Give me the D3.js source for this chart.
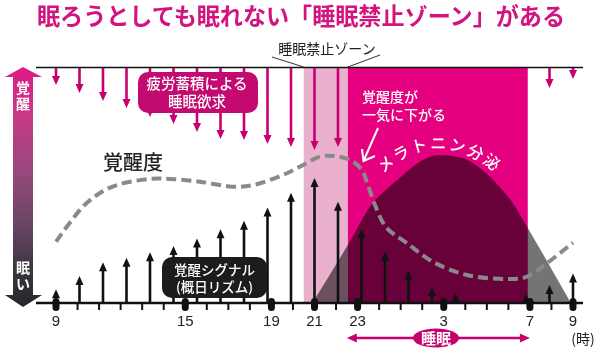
<!DOCTYPE html>
<html>
<head>
<meta charset="utf-8">
<script src="https://cdn.jsdelivr.net/npm/d3@7"></script>
<style>
  body { margin: 0; background: #fff; }
  text { font-family: "Noto Sans CJK JP", "Noto Sans", sans-serif; }
</style>
</head>
<body>
<svg id="drawing_region"></svg>
<script>
// hours on the axis (24 = midnight, 27 = 3am ...)
const tickHours = [9,10,11,12,13,14,15,16,17,18,19,20,21,22,23,24,25,26,27,28,29,30,31,32,33];
const majorHours = [9, 15, 19, 21, 23, 27, 31, 33];
const majorLabels = ["9", "15", "19", "21", "23", "3", "7", "9"];

// 覚醒シグナル (black up arrows), 23 evenly spaced slots, % of height
const signalValues = [5.8, 11.5, 17.3, 19.3, 21.6, 24.3, 27.5, 31.4, 35, 40.6, 46.9, 53.2, 43.1, 31.5, 21.8, 13.7, 6.7, 4.4, 0, 0, 3.8, 7.7, 12.6];
// 睡眠欲求 (magenta down arrows from the top), null = none
const sleepDrive = [7.2, 10.6, 14, 17, 20.9, 23.8, 27.2, 30.2, 30.6, 32.3, 33.6, 34.9, 33.6, null, null, null, null, null, null, null, null, 8.5, 4.7];

// 覚醒度 (dashed line)
const alertHours = [9, 10.25, 11.04, 11.83, 13.36, 14.3, 15.69, 17.2, 18.15, 19.54, 20.47, 21.26, 21.86, 22.65, 23.2, 23.44, 23.81, 24.32, 25.3, 26.5, 28.08, 29.94, 30.87, 31.8, 33];
const alertValues = [26.1, 41, 46.8, 50.2, 52.8, 52.8, 51.6, 49.5, 50.2, 54.5, 58.7, 62.3, 62.6, 60.9, 56.6, 51.1, 41.7, 32.3, 25.4, 17.5, 11.9, 10.2, 11.2, 17, 25.7];

// メラトニン分泌
const melHours = [20.9, 22.6, 23.7, 24.3, 25.0, 25.8, 26.8, 27.7, 28.8, 29.6, 30.2, 30.9, 32.9];
const melValues = [0, 25.5, 42.6, 48, 53.6, 59.6, 63, 62.1, 56.6, 49.4, 42.6, 31.9, 0];

// zones
const forbiddenZone = [20.5, 22.55];
const lowZone = [22.55, 30.9];
const sleepSpan = [22.5, 31];

const config = {
    width: 600,
    height: 354,
    x0: 56, x1: 573,
    top: 68, base: 303
};

const svg = d3.select('#drawing_region')
    .attr('width', config.width)
    .attr('height', config.height);

const xscale = d3.scaleLinear()
    .domain([9, 33])
    .range([config.x0, config.x1]);

const yscale = d3.scaleLinear()
    .domain([0, 100])
    .range([config.base, config.top]);

const slot = d3.scalePoint()
    .domain(d3.range(signalValues.length))
    .range([xscale(9), xscale(33)]);

const magenta = '#e5007f';
const arrowPink = '#c8006f';

//Title
svg.append('text')
    .attr('x', 301)
    .attr('y', 25)
    .attr('text-anchor', 'middle')
    .attr('textLength', 528)
    .attr('lengthAdjust', 'spacingAndGlyphs')
    .attr('fill', '#d3137e')
    .style('font-size', '23.5px')
    .style('font-weight', 700)
    .text('眠ろうとしても眠れない「睡眠禁止ゾーン」がある');

//Zones
svg.append('rect')
    .attr('x', xscale(forbiddenZone[0]))
    .attr('y', config.top)
    .attr('width', xscale(forbiddenZone[1]) - xscale(forbiddenZone[0]))
    .attr('height', config.base - config.top)
    .attr('fill', '#eab1cf');

svg.append('rect')
    .attr('x', xscale(lowZone[0]))
    .attr('y', config.top)
    .attr('width', xscale(lowZone[1]) - xscale(lowZone[0]))
    .attr('height', config.base - config.top)
    .attr('fill', magenta);

//Melatonin
const melArea = d3.area()
    .x((d, i) => xscale(melHours[i]))
    .y0(yscale(0))
    .y1(d => yscale(d))
    .curve(d3.curveMonotoneX);

svg.append('path')
    .datum(melValues)
    .attr('d', melArea)
    .attr('fill', '#747474')
    .style('mix-blend-mode', 'multiply');

//Top line
svg.append('line')
    .attr('x1', 36).attr('x2', 583)
    .attr('y1', config.top - 0.5).attr('y2', config.top - 0.5)
    .attr('stroke', '#111')
    .attr('stroke-width', 1.5);

function upArrow(cx, yb, yt) {
    const hw = 4, hh = 9, sw = 1.3;
    return `M${cx - sw},${yb}V${yt + hh}H${cx - hw}L${cx},${yt}L${cx + hw},${yt + hh}H${cx + sw}V${yb}Z`;
}
function downArrow(cx, yt, yb) {
    const hw = 4, hh = 9, sw = 1.3;
    return `M${cx - sw},${yt}V${yb - hh}H${cx - hw}L${cx},${yb}L${cx + hw},${yb - hh}H${cx + sw}V${yt}Z`;
}

//Sleep drive arrows
svg.append('g')
    .selectAll('path')
    .data(sleepDrive.map((v, i) => ({v: v, i: i})).filter(d => d.v !== null))
    .enter()
    .append('path')
    .attr('d', d => downArrow(slot(d.i), config.top, yscale(100 - d.v)))
    .attr('fill', arrowPink);

//Signal arrows
svg.append('g')
    .selectAll('path')
    .data(signalValues.map((v, i) => ({v: v, i: i})).filter(d => d.v > 0))
    .enter()
    .append('path')
    .attr('d', d => upArrow(slot(d.i), config.base, yscale(d.v)))
    .attr('fill', '#111');

//Alertness line
const alertLine = d3.line()
    .x((d, i) => xscale(alertHours[i]))
    .y(d => yscale(d))
    .curve(d3.curveCatmullRom);

svg.append('path')
    .datum(alertValues)
    .attr('d', alertLine)
    .attr('fill', 'none')
    .attr('stroke', '#8a8a8a')
    .attr('stroke-width', 4)
    .attr('stroke-dasharray', '10,5');

//Base axis
svg.append('line')
    .attr('x1', 36).attr('x2', 583)
    .attr('y1', config.base).attr('y2', config.base)
    .attr('stroke', '#111')
    .attr('stroke-width', 2.5);

svg.append('g')
    .selectAll('line')
    .data(tickHours)
    .enter()
    .append('line')
    .attr('x1', d => xscale(d)).attr('x2', d => xscale(d))
    .attr('y1', config.base).attr('y2', config.base + 7)
    .attr('stroke', '#111')
    .attr('stroke-width', 2);

svg.append('g')
    .selectAll('rect')
    .data(majorHours)
    .enter()
    .append('rect')
    .attr('x', d => xscale(d) - 3.5)
    .attr('y', config.base - 5)
    .attr('width', 7)
    .attr('height', 13)
    .attr('rx', 3.5)
    .attr('fill', '#111');

svg.append('g')
    .selectAll('text')
    .data(majorHours)
    .enter()
    .append('text')
    .attr('x', d => xscale(d))
    .attr('y', 326)
    .attr('text-anchor', 'middle')
    .attr('fill', '#222')
    .style('font-family', '"Liberation Sans", Arial, sans-serif')
    .style('font-size', '15px')
    .text((d, i) => majorLabels[i]);

svg.append('text')
    .attr('x', 583).attr('y', 344)
    .attr('text-anchor', 'middle')
    .attr('fill', '#222')
    .style('font-size', '14px')
    .text('(時)');

//Sleep span
const sy = 338;
const sx0 = xscale(sleepSpan[0]), sx1 = xscale(sleepSpan[1]);
svg.append('line')
    .attr('x1', sx0 + 6).attr('x2', sx1 - 6)
    .attr('y1', sy).attr('y2', sy)
    .attr('stroke', arrowPink)
    .attr('stroke-width', 2.5);
svg.append('path')
    .attr('d', `M${sx0},${sy}L${sx0 + 10},${sy - 4.5}L${sx0 + 10},${sy + 4.5}Z M${sx1},${sy}L${sx1 - 10},${sy - 4.5}L${sx1 - 10},${sy + 4.5}Z`)
    .attr('fill', arrowPink);
svg.append('ellipse')
    .attr('cx', 436).attr('cy', sy)
    .attr('rx', 23).attr('ry', 9.5)
    .attr('fill', arrowPink);
svg.append('text')
    .attr('x', 436).attr('y', sy + 5.5)
    .attr('text-anchor', 'middle')
    .attr('fill', '#fff')
    .style('font-size', '15px')
    .style('font-weight', 700)
    .text('睡眠');

//Labels
svg.append('text')
    .attr('x', 103).attr('y', 170)
    .attr('fill', '#222')
    .style('font-size', '20px')
    .style('font-weight', 500)
    .text('覚醒度');

svg.append('rect')
    .attr('x', 138).attr('y', 72)
    .attr('width', 120).attr('height', 41)
    .attr('rx', 10)
    .attr('fill', '#c20a70');
svg.append('text')
    .attr('text-anchor', 'middle')
    .attr('fill', '#fff')
    .style('font-size', '14.5px')
    .style('font-weight', 500)
    .selectAll('tspan')
    .data(['疲労蓄積による', '睡眠欲求'])
    .enter()
    .append('tspan')
    .attr('x', 197)
    .attr('y', (d, i) => 89 + i * 18)
    .text(d => d);

svg.append('rect')
    .attr('x', 162).attr('y', 257)
    .attr('width', 105).attr('height', 41)
    .attr('rx', 10)
    .attr('fill', '#1c1c1c');
svg.append('text')
    .attr('text-anchor', 'middle')
    .attr('fill', '#fff')
    .style('font-size', '13.5px')
    .style('font-weight', 500)
    .selectAll('tspan')
    .data(['覚醒シグナル', '(概日リズム)'])
    .enter()
    .append('tspan')
    .attr('x', 214.5)
    .attr('y', (d, i) => 275 + i * 17)
    .text(d => d);

svg.append('text')
    .attr('fill', '#fff')
    .style('font-size', '14px')
    .style('font-weight', 500)
    .selectAll('tspan')
    .data(['覚醒度が', '一気に下がる'])
    .enter()
    .append('tspan')
    .attr('x', 362)
    .attr('y', (d, i) => 102 + i * 18)
    .text(d => d);

svg.append('path')
    .attr('d', 'M378,128L363.5,161 M362,149L363.5,161L375,156')
    .attr('fill', 'none')
    .attr('stroke', '#fff')
    .attr('stroke-width', 2);

svg.append('path')
    .attr('id', 'melPath')
    .attr('d', 'M383,174 Q438,123 500,176')
    .attr('fill', 'none');
svg.append('text')
    .attr('fill', '#fff')
    .style('font-size', '16px')
    .style('font-weight', 500)
    .style('letter-spacing', '2px')
    .append('textPath')
    .attr('href', '#melPath')
    .attr('startOffset', 0)
    .text('メラトニン分泌');

//Forbidden zone label
svg.append('text')
    .attr('x', 327).attr('y', 54)
    .attr('text-anchor', 'middle')
    .attr('fill', '#222')
    .style('font-size', '14px')
    .text('睡眠禁止ゾーン');
svg.append('path')
    .attr('d', `M272,57L${xscale(forbiddenZone[0])},${config.top - 1} M380,55L${xscale(lowZone[0])},${config.top - 1}`)
    .attr('fill', 'none')
    .attr('stroke', '#333')
    .attr('stroke-width', 1);

//Left arrow
const grad = svg.append('defs')
    .append('linearGradient')
    .attr('id', 'leftGrad')
    .attr('x1', 0).attr('x2', 0).attr('y1', 0).attr('y2', 1);
[['0%', '#de1a88'], ['20%', '#c73a85'], ['45%', '#94497b'], ['65%', '#6b4565'], ['85%', '#3b3640'], ['100%', '#262626']]
    .forEach(s => grad.append('stop').attr('offset', s[0]).attr('stop-color', s[1]));

svg.append('path')
    .attr('d', 'M5,77L23,67L42,77L33,77L33,295L42,295L23,307L5,295L13,295L13,77Z')
    .attr('fill', 'url(#leftGrad)');

svg.append('g')
    .selectAll('text')
    .data([['覚', 93], ['醒', 108.5], ['眠', 273], ['い', 289]])
    .enter()
    .append('text')
    .attr('x', 23)
    .attr('y', d => d[1])
    .attr('text-anchor', 'middle')
    .attr('fill', '#fff')
    .style('font-size', '14px')
    .style('font-weight', 700)
    .text(d => d[0]);
</script>
</body>
</html>
